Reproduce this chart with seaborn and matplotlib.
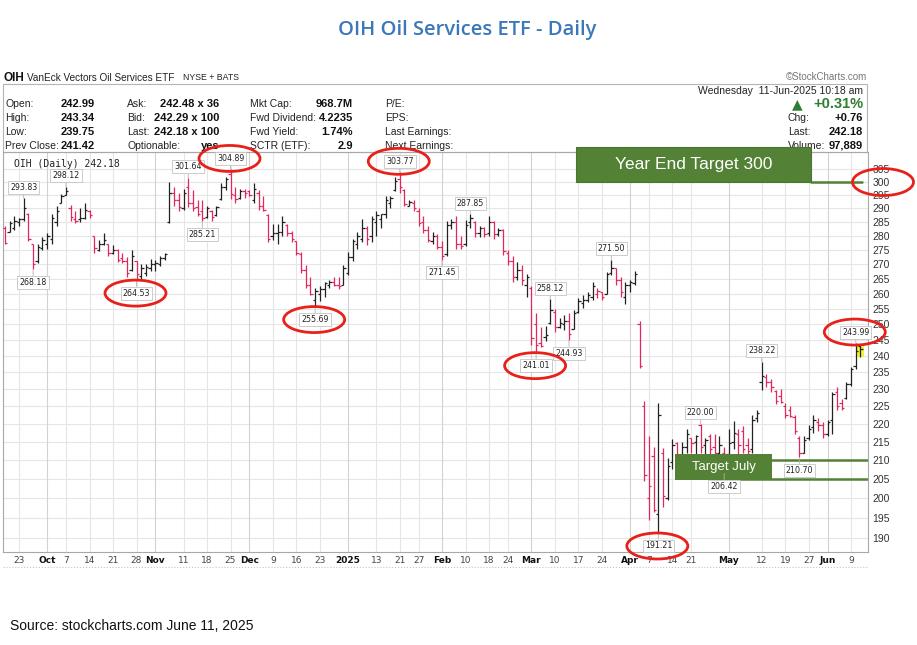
import numpy as np
import pandas as pd
import seaborn as sns
import matplotlib.pyplot as plt
from matplotlib.patches import Rectangle, Ellipse
from matplotlib.lines import Line2D
from matplotlib.transforms import IdentityTransform, blended_transform_factory

# ---- data ----------------------------------------------------------------
holidays = ['2024-11-28', '2024-12-25', '2025-01-01', '2025-01-09', '2025-01-20',
            '2025-02-17', '2025-04-18', '2025-05-26']
days = pd.bdate_range('2024-09-18', '2025-06-11')
days = days[~days.isin(pd.to_datetime(holidays))]

opens = [283, 281.5, 283, 285, 286, 288, 277, 271, 275.5, 277, 279, 285, 292, 295, 290, 286,
         286, 286.5, 289, 280, 275, 277, 277, 274, 275, 272, 271, 268, 271, 266, 267, 268.5,
         270, 270, 272, 285, 296, 293, 290, 298, 292, 290.5, 289, 287, 289, 287.5, 293.5, 298,
         303, 295, 294, 296.5, 296.5, 293, 296, 291, 287.5, 280, 281, 281.5, 284, 281, 278,
         273.5, 268, 263, 258, 260, 261.5, 263, 264, 263, 263, 267, 272.5, 277, 279, 283, 280,
         285, 286, 288, 292, 297, 301, 297, 291, 292, 289, 285, 282, 278, 280, 276, 273.5, 284,
         285, 277, 277, 285, 285, 281, 283, 281, 285, 280.5, 282, 274, 271, 265.5, 268, 263,
         262, 250, 244, 246, 250.5, 254, 249, 250, 251, 248.5, 254, 257, 258, 259, 260, 260.5,
         260, 267, 268.5, 264.5, 259, 263, 263.5, 250, 225, 200, 211, 196, 212, 200, 209.5,
         214.5, 211, 213.5, 216, 215, 219.5, 214, 216.5, 213.5, 212, 212, 211.5, 215, 217, 218,
         214, 213, 221.5, 232, 233.5, 232, 229.5, 228, 225, 224, 222, 216, 212, 216, 219, 220.5,
         219.5, 217, 221, 229, 226, 227.5, 231.5, 237, 242.99]
highs = [283.6, 285.4, 287.2, 286.5, 293.83, 288.5, 277.2, 277, 279.5, 281, 288, 290.8, 295.6,
         298.12, 291.3, 289, 290, 292, 289.5, 280, 278.5, 281, 277.2, 276.6, 275.3, 274, 272.5,
         275, 271, 270, 270, 271.8, 271.5, 273, 274, 300, 298, 296, 297.5, 301.64, 297, 293.2,
         293, 290.8, 289.5, 291, 299.5, 302, 304.89, 298, 297.5, 297.5, 297, 299.5, 297, 294.5,
         287.8, 284.2, 284.2, 287.2, 284.3, 281.9, 278, 274.3, 269.6, 265.5, 262, 262.5, 264,
         264.5, 265.5, 265.5, 269.6, 274.3, 279, 281.3, 286, 283.6, 287.2, 289, 288, 294.5,
         294.5, 302, 303.77, 297.5, 293.2, 293, 290.2, 287.2, 283.6, 281.3, 280.7, 278, 285.4,
         286, 287.2, 280, 285.9, 287.85, 285.3, 283.6, 283.3, 287.2, 285.4, 283, 282.3, 275, 273,
         270.8, 269.6, 266.5, 262.5, 253.5, 249, 249.5, 258.12, 254.8, 252, 253, 253.5, 254.5,
         258.4, 259.5, 260.6, 264, 261.7, 260.6, 267.3, 271.5, 268.8, 265.5, 264, 264.5, 267.5,
         250.9, 226.5, 216.5, 213.5, 225.8, 213.2, 210.5, 215.8, 214.8, 215, 218.5, 216, 216.8,
         220.0, 216, 217, 217, 216.5, 213.5, 218.4, 220.7, 218.4, 219.3, 216, 222.6, 224, 238.22,
         234.5, 233, 229.8, 230, 226, 225, 222.5, 216.5, 216.5, 219.5, 222.5, 221.5, 220.5, 221,
         229, 230.5, 227, 232, 236.5, 243.99, 243.34]
lows = [276.9, 281.3, 282, 283.6, 285.4, 278.3, 268.18, 270.5, 275, 275.3, 277, 283.6, 292, 295,
        285.4, 284.8, 285, 286, 286.5, 274, 274.5, 276.6, 273, 273.5, 270.8, 270.3, 265.5,
        267.5, 264.53, 265, 266, 267.5, 267.5, 269.5, 271.5, 284.7, 291, 289, 289.5, 290.5, 289,
        287.2, 285.21, 286.5, 285.5, 287.2, 293.2, 297, 293.5, 292, 293.5, 294, 294.5, 292,
        289.5, 289, 277.8, 278.4, 277.2, 280, 280, 277.8, 273.1, 266.8, 262, 259.5, 255.69,
        257.5, 259, 261.7, 262.5, 261.5, 262.8, 266.2, 271, 275.3, 277.8, 276.6, 277.8, 280, 283,
        286.5, 290, 296.5, 296, 290.8, 290.8, 289, 283.6, 281, 277.8, 277.2, 275.3, 271.45, 273,
        282.5, 275.3, 275.3, 276.5, 283, 279.5, 279.5, 279.5, 280, 279, 280, 273.1, 269.6, 264,
        264.5, 263, 259, 243.5, 241.01, 242.7, 244.7, 250, 247.6, 248.8, 248.2, 244.93, 248.5,
        253.5, 255.2, 257.3, 257.9, 258.4, 257.9, 260, 266.2, 263, 259, 256.5, 260.6, 263, 236.2,
        204.5, 194.3, 196.5, 191.21, 197.8, 199.5, 207.5, 208, 209.5, 212, 212, 211, 212, 211,
        210, 210.5, 209, 206.42, 210, 213, 211.5, 212, 209, 212, 220.5, 229.8, 230.5, 229, 225.5,
        226, 221.5, 222, 217, 210.70, 212, 215.5, 217.5, 218, 216, 216.5, 217, 224, 224, 227,
        231, 236, 239.75]
closes = [277.5, 284.5, 285.5, 286, 290, 279, 270, 276, 278.5, 280, 286.5, 289, 294.5, 296.5,
          287, 285.5, 286.5, 289.5, 287.5, 275.5, 277, 278.5, 274, 275, 271.5, 271, 267, 273,
          266.5, 268.5, 269, 270, 270.5, 272, 273.5, 296, 293, 290.5, 296, 292, 290, 288, 286.5,
          290, 287, 290.5, 298, 301, 295.5, 293.5, 296.5, 296, 295, 297.5, 291, 289.5, 279, 281,
          281.5, 285, 281, 279, 274, 268, 263, 260, 261, 261.5, 263.5, 263.8, 263, 262.5, 268.5,
          272.5, 278, 280, 283, 279, 286, 287.5, 287.8, 293, 294, 300.5, 298, 291.5, 292.5, 290,
          284.5, 282, 278.5, 280, 276, 273, 284, 285, 277, 276.5, 284, 286.5, 281, 283, 280.5,
          285, 280.7, 282, 274.5, 271, 265.5, 268, 264.5, 265.5, 245.5, 243.5, 243, 246.5, 254.5,
          249, 250.5, 251, 247, 253.5, 257.5, 258, 259.5, 262.5, 261, 259, 266.5, 268.5, 264.5,
          260.5, 263, 264, 266.5, 237, 206, 203, 197, 222.5, 200.5, 208.5, 214, 211.5, 213.5, 217,
          214.5, 216.5, 213.5, 215.5, 213, 212, 214, 211.5, 214.5, 217.5, 214, 213, 212.5, 221,
          223, 234, 232, 230.5, 226.5, 226.2, 222.5, 222.3, 218, 212, 215.5, 218.5, 221, 219.5,
          217, 220.5, 228.5, 225, 224.5, 231.5, 236, 241.42, 242.18]

tick_dates = ['2024-09-23', '2024-10-01', '2024-10-07', '2024-10-14', '2024-10-21', '2024-10-28',
              '2024-11-01', '2024-11-11', '2024-11-18', '2024-11-25', '2024-12-02', '2024-12-09',
              '2024-12-16', '2024-12-23', '2025-01-02', '2025-01-13', '2025-01-21', '2025-01-27',
              '2025-02-03', '2025-02-10', '2025-02-18', '2025-02-24', '2025-03-03', '2025-03-10',
              '2025-03-17', '2025-03-24', '2025-04-01', '2025-04-07', '2025-04-14', '2025-04-21',
              '2025-05-01', '2025-05-12', '2025-05-19', '2025-05-27', '2025-06-02', '2025-06-09']
tick_labels = ['23', 'Oct', '7', '14', '21', '28', 'Nov', '11', '18', '25', 'Dec', '9', '16', '23',
               '2025', '13', '21', '27', 'Feb', '10', '18', '24', 'Mar', '10', '17', '24', 'Apr',
               '7', '14', '21', 'May', '12', '19', '27', 'Jun', '9']
month_labels = ['Oct', 'Nov', 'Dec', '2025', 'Feb', 'Mar', 'Apr', 'May', 'Jun']

# annotated highs / lows
mark_dates = ['2024-09-24', '2024-09-26', '2024-10-07', '2024-10-28', '2024-11-12', '2024-11-15',
              '2024-11-25', '2024-12-20', '2025-01-21', '2025-02-03', '2025-02-11', '2025-03-04',
              '2025-03-07', '2025-03-13', '2025-03-26', '2025-04-09', '2025-04-23', '2025-04-30',
              '2025-05-12', '2025-05-22', '2025-06-10']
mark_values = [293.83, 268.18, 298.12, 264.53, 301.64, 285.21, 304.89, 255.69, 303.77, 271.45,
               287.85, 241.01, 258.12, 244.93, 271.50, 191.21, 220.00, 206.42, 238.22, 210.70,
               243.99]
mark_side = ['hi', 'lo', 'hi', 'lo', 'hi', 'lo', 'hi', 'lo', 'hi', 'lo', 'hi', 'lo', 'hi', 'lo',
             'hi', 'lo', 'hi', 'lo', 'hi', 'lo', 'hi']
circled = [304.89, 303.77, 264.53, 255.69, 241.01, 191.21, 243.99]

year_end_target = 300
july_target = [205, 210]

# header table
hdr_lab1 = ['Open:', 'High:', 'Low:', 'Prev Close:']
hdr_val1 = ['242.99', '243.34', '239.75', '241.42']
hdr_lab2 = ['Ask:', 'Bid:', 'Last:', 'Optionable:']
hdr_val2 = ['242.48 x 36', '242.29 x 100', '242.18 x 100', 'yes']
hdr_lab3 = ['Mkt Cap:', 'Fwd Dividend:', 'Fwd Yield:', 'SCTR (ETF):']
hdr_val3 = ['968.7M', '4.2235', '1.74%', '2.9']
hdr_lab4 = ['P/E:', 'EPS:', 'Last Earnings:', 'Next Earnings:']

df = pd.DataFrame({'date': days, 'open': opens, 'high': highs, 'low': lows, 'close': closes})
df['i'] = np.arange(len(df))
prev = df['close'].shift(1).fillna(df['open'])
df['up'] = df['close'] >= prev

# ---- figure ----------------------------------------------------------------
sns.set_style('white')
plt.rcParams['font.family'] = ['Liberation Sans', 'DejaVu Sans']

W, H = 917, 645
fig = plt.figure(figsize=(W / 100, H / 100), dpi=100)


def fx(x):
    return x / W


def fy(y):
    return 1 - y / H


def ftext(x, y, s, **kw):
    kw.setdefault('va', 'center')
    fig.text(fx(x), fy(y), s, **kw)


ax = fig.add_axes([fx(3), fy(552), fx(868) - fx(3), fy(152) - fy(552)])
ax.set_zorder(5)
ax.patch.set_alpha(0)
ax.set_yscale('log')
ax.set_ylim(186.6, 311.8)
ax.set_xlim(-0.4, 183.6)

red, blk = '#e2275c', '#222222'
for up, color in [(True, blk), (False, red)]:
    d = df[df['up'] == up]
    ax.vlines(d['i'], d['low'], d['high'], color=color, lw=0.9, zorder=3)
    ax.hlines(d['open'], d['i'] - 0.5, d['i'], color=color, lw=0.9, zorder=3)
    ax.hlines(d['close'], d['i'], d['i'] + 0.5, color=color, lw=0.9, zorder=3)

last = df.iloc[-1]
ax.add_patch(Rectangle((last['i'] - 0.7, last['low']), 1.4, last['high'] - last['low'],
                       fc='#f2f23a', ec='none', zorder=2))

# axes / grid
yt = list(range(190, 306, 5))
ax.set_yticks(yt)
ax.set_yticklabels([str(v) for v in yt])
ax.minorticks_off()
ax.yaxis.tick_right()
ax.tick_params(axis='y', length=0, pad=3, labelsize=7.5, labelcolor='#333333')
for v in yt:
    ax.axhline(v, color='#e6e6e6', lw=0.8, zorder=0)

pos = [days.get_loc(pd.Timestamp(d)) for d in tick_dates]
ax.set_xticks(pos)
ax.set_xticklabels(tick_labels)
ax.tick_params(axis='x', length=0, pad=3, labelsize=6.5, labelcolor='#444444')
for lab in ax.get_xticklabels():
    lab.set_family('DejaVu Sans')
    if lab.get_text() in month_labels:
        lab.set_fontweight('bold')
        lab.set_color('#111111')
for p, lab in zip(pos, tick_labels):
    ax.axvline(p, color='#d2d2d2' if lab in month_labels else '#e6e6e6', lw=0.8, zorder=0)
for s in ax.spines.values():
    s.set_color('#a8a8a8')
    s.set_linewidth(0.8)

ax.text(0.013, 0.982, 'OIH (Daily) 242.18', transform=ax.transAxes, va='top', ha='left',
        fontsize=7, family='DejaVu Sans Mono', color='#222222')

# value labels
off_hi, off_lo = 11, 13  # px
for d, v, side in zip(mark_dates, mark_values, mark_side):
    i = days.get_loc(pd.Timestamp(d))
    dy = off_hi if side == 'hi' else -off_lo
    ax.annotate(f'{v:.2f}', xy=(i, v), xytext=(0, dy * 0.72), textcoords='offset points',
                ha='center', va='center', fontsize=5.7, family='DejaVu Sans', color='#222222',
                bbox=dict(boxstyle='square,pad=0.25', fc='white', ec='#c4c4c4', lw=0.6),
                arrowprops=dict(arrowstyle='-', color='#b0b0b0', lw=0.6, shrinkA=0, shrinkB=0),
                zorder=10)

# target boxes and lines
bt = blended_transform_factory(ax.transAxes, ax.transData)
top_val = 313.9
ax.add_patch(Rectangle((0.6624, year_end_target), 0.272, top_val - year_end_target,
                       transform=bt, fc='#538135', ec='#4a7530', lw=0.8, clip_on=False, zorder=8))
ax.text(0.6624 + 0.136, (year_end_target * top_val) ** 0.5, 'Year End Target 300', transform=bt,
        ha='center', va='center', color='white', fontsize=12.5, zorder=9)
ax.plot([0.934, 0.993], [year_end_target] * 2, transform=bt, color='#538135', lw=1.8, zorder=7)

ax.plot([0.85, 1.0], [july_target[1]] * 2, transform=bt, color='#538135', lw=1.8, zorder=6)
ax.plot([0.85, 1.0], [july_target[0]] * 2, transform=bt, color='#538135', lw=1.8, zorder=6)
ax.add_patch(Rectangle((0.7768, 204.7), 0.1127, 211.6 - 204.7, transform=bt,
                       fc='#538135', ec='none', zorder=7))
ax.text(0.7768 + 0.0563, (204.7 * 211.6) ** 0.5, 'Target July', transform=bt,
        ha='center', va='center', color='white', fontsize=9.5, zorder=8)

# red ellipses around key labels
fig.canvas.draw()
for d, v, side in zip(mark_dates, mark_values, mark_side):
    if v not in circled:
        continue
    i = days.get_loc(pd.Timestamp(d))
    cx, cy = ax.transData.transform((i, v))
    cy += off_hi if side == 'hi' else -off_lo
    fig.add_artist(Ellipse((cx - 1, cy), 61, 26, transform=IdentityTransform(), fill=False,
                           ec='#e8201a', lw=2.0, zorder=10))
cx, cy = ax.transData.transform((ax.get_xlim()[1], year_end_target))
fig.add_artist(Ellipse((cx + 15, cy), 61, 27, transform=IdentityTransform(), fill=False,
                       ec='#e8201a', lw=2.0, zorder=10))

# header area
fig.add_artist(Rectangle((fx(3), fy(152)), fx(867) - fx(3), fy(84) - fy(152),
                         transform=fig.transFigure, fill=False, ec='#b4b4b4', lw=0.8))
fig.add_artist(Line2D([fx(3), fx(868)], [fy(567), fy(567)], ls=':', color='#c4c4c4', lw=0.8))

ftext(3, 78, 'OIH', fontsize=8.5, fontweight='bold', color='#111111')
ftext(27, 78, 'VanEck Vectors Oil Services ETF', fontsize=7.2, color='#222222')
ftext(183, 78, 'NYSE + BATS', fontsize=6.3, color='#222222')
ftext(867, 77, '\u00a9StockCharts.com', fontsize=7, color='#777777', ha='right')

rows = [104, 118, 132, 146]
for k, y in enumerate(rows):
    ftext(5, y, hdr_lab1[k], fontsize=7.5, color='#222222')
    ftext(95, y, hdr_val1[k], fontsize=8, fontweight='bold', ha='right', color='#111111')
    ftext(127, y, hdr_lab2[k], fontsize=7.5, color='#222222')
    ftext(219, y, hdr_val2[k], fontsize=8, fontweight='bold', ha='right', color='#111111')
    ftext(250, y, hdr_lab3[k], fontsize=7.5, color='#222222')
    ftext(353, y, hdr_val3[k], fontsize=8, fontweight='bold', ha='right', color='#111111')
    ftext(385, y, hdr_lab4[k], fontsize=7.5, color='#222222')

ftext(863, 91, 'Wednesday  11-Jun-2025 10:18 am', fontsize=7.5, ha='right', color='#222222')
ftext(797, 104, '\u25b2', fontsize=10, ha='center', color='#2e7d32', family='DejaVu Sans')
ftext(863, 104, '+0.31%', fontsize=10.5, fontweight='bold', ha='right', color='#2e7d32')
ftext(788, 118, 'Chg:', fontsize=7.5, color='#222222')
ftext(863, 118, '+0.76', fontsize=8, fontweight='bold', ha='right', color='#111111')
ftext(788, 132, 'Last:', fontsize=7.5, color='#222222')
ftext(863, 132, '242.18', fontsize=8, fontweight='bold', ha='right', color='#111111')
ftext(788, 146, 'Volume:', fontsize=7.5, color='#222222')
ftext(863, 146, '97,889', fontsize=8, fontweight='bold', ha='right', color='#111111')

ftext(467, 30, 'OIH Oil Services ETF - Daily', fontsize=14.5, fontweight='semibold',
      family=['Open Sans', 'DejaVu Sans'], ha='center', color='#3b78b9')
ftext(10, 626, 'Source: stockcharts.com June 11, 2025', fontsize=10, color='#111111')

fig.savefig('out.png', dpi=100)
